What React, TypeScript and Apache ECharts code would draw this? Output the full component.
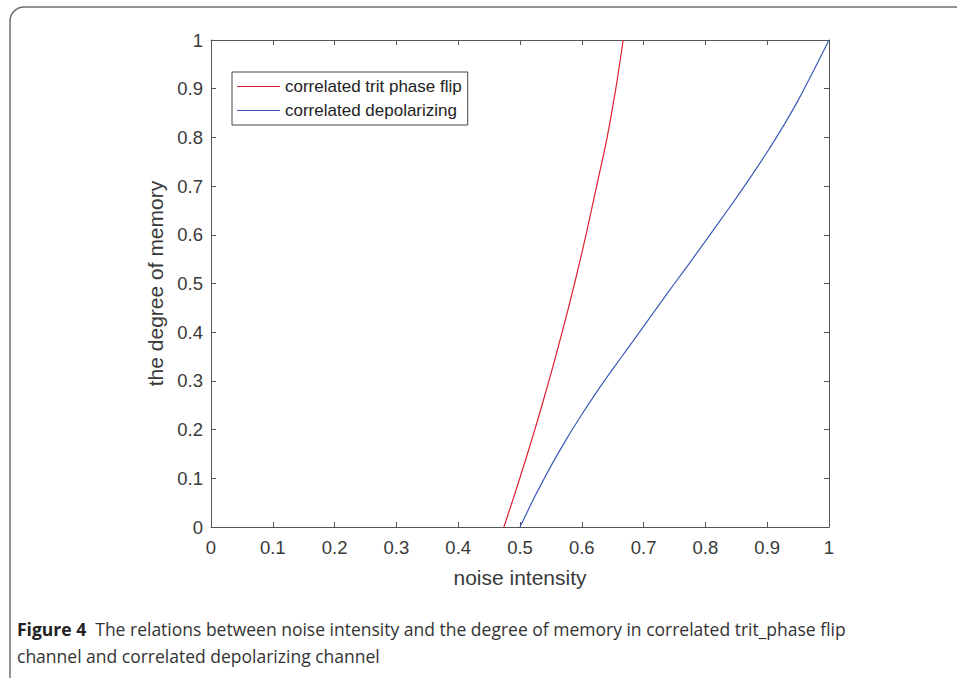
import React, { useEffect, useRef } from "react";
import * as echarts from "echarts";

const tritMemory = [0, 0.1, 0.2, 0.3, 0.4, 0.5, 0.6, 0.7, 0.8, 0.9, 1];
const tritNoise = [0.474, 0.4997, 0.524, 0.5468, 0.5682, 0.5883, 0.6068, 0.624, 0.641, 0.655, 0.667];
const depNoise = [0.5, 0.525, 0.55, 0.575, 0.6, 0.625, 0.65, 0.675, 0.7, 0.725, 0.75, 0.775, 0.8, 0.825, 0.85, 0.875, 0.9, 0.925, 0.95, 0.975, 1];
const depMemory = [0, 0.065, 0.125, 0.18, 0.231, 0.279, 0.324, 0.368, 0.412, 0.456, 0.5, 0.543, 0.587, 0.631, 0.676, 0.722, 0.77, 0.821, 0.876, 0.937, 1];
const seriesNames = ["correlated trit phase flip", "correlated depolarizing"];
const xName = "noise intensity";
const yName = "the degree of memory";
const captionBold = "Figure 4";
const captionLine1 = "  The relations between noise intensity and the degree of memory in correlated trit_phase flip";
const captionLine2 = "channel and correlated depolarizing channel";

export default function App() {
  const ref = useRef<HTMLDivElement>(null);
  useEffect(() => {
    if (!ref.current) return;
    const chart = echarts.init(ref.current, undefined, { renderer: "svg" });
    const axisColor = "#555";
    const textColor = "#3a3a3a";
    const font = "'Liberation Sans', Arial, sans-serif";
    const capFont = "'Open Sans', sans-serif";
    const baseAxis = {
      type: "value" as const,
      min: 0,
      max: 1,
      interval: 0.1,
      splitLine: { show: false },
      axisLine: { show: true, onZero: false, lineStyle: { color: axisColor, width: 1 } },
      axisTick: { show: true, inside: true, length: 5, lineStyle: { color: axisColor } },
    };
    const fmt = (v: number) => String(parseFloat(v.toFixed(1)));
    chart.setOption({
      animation: false,
      backgroundColor: "#fff",
      grid: { left: 211, right: 128, top: 40, bottom: 151 },
      legend: {
        left: 232,
        top: 72,
        orient: "vertical",
        backgroundColor: "#fff",
        borderColor: "#444",
        borderWidth: 1,
        borderRadius: 0,
        padding: [6, 6, 6, 5],
        icon: "rect",
        itemWidth: 43,
        itemHeight: 1.2,
        itemGap: 7,
        textStyle: { fontFamily: font, fontSize: 17, color: "#222" },
        data: seriesNames,
      },
      xAxis: [
        {
          ...baseAxis,
          position: "bottom",
          name: xName,
          nameLocation: "middle",
          nameGap: 40,
          nameTextStyle: { fontFamily: font, fontSize: 21, color: textColor },
          axisLabel: { fontFamily: font, fontSize: 18.5, color: textColor, margin: 11, formatter: fmt },
        },
        { ...baseAxis, position: "top", axisLabel: { show: false } },
      ],
      yAxis: [
        {
          ...baseAxis,
          position: "left",
          name: yName,
          nameLocation: "middle",
          nameGap: 41,
          nameTextStyle: { fontFamily: font, fontSize: 21, color: textColor },
          axisLabel: { fontFamily: font, fontSize: 18.5, color: textColor, margin: 8, formatter: fmt },
        },
        { ...baseAxis, position: "right", axisLabel: { show: false } },
      ],
      series: [
        {
          name: seriesNames[0],
          type: "line",
          symbol: "none",
          smooth: 0.3,
          clip: true,
          lineStyle: { color: "#dd2030", width: 1.2 },
          itemStyle: { color: "#dd2030" },
          data: tritNoise.map((x, i) => [x, tritMemory[i]]),
        },
        {
          name: seriesNames[1],
          type: "line",
          symbol: "none",
          smooth: 0.3,
          clip: true,
          lineStyle: { color: "#3b5bb5", width: 1.2 },
          itemStyle: { color: "#3b5bb5" },
          data: depNoise.map((x, i) => [x, depMemory[i]]),
        },
      ],
      graphic: [
        {
          type: "rect",
          shape: { x: 10, y: 7, width: 1000, height: 720, r: 14 },
          style: { fill: "none", stroke: "#707070", lineWidth: 1.5 },
          silent: true,
        },
        {
          type: "text",
          left: 17,
          top: 620,
          style: {
            text: `{b|${captionBold}}{n|${captionLine1}}`,
            rich: {
              b: { fontFamily: capFont, fontWeight: "bold", fontSize: 17.5, fill: "#222" },
              n: { fontFamily: capFont, fontSize: 17.5, fill: "#333" },
            },
          },
        },
        {
          type: "text",
          left: 17,
          top: 647,
          style: { text: captionLine2, fontFamily: capFont, fontSize: 17.5, fill: "#333" },
        },
      ],
    });
    return () => chart.dispose();
  }, []);
  return <div ref={ref} style={{ position: "absolute", left: 0, top: 0, width: 957, height: 678 }} />;
}
